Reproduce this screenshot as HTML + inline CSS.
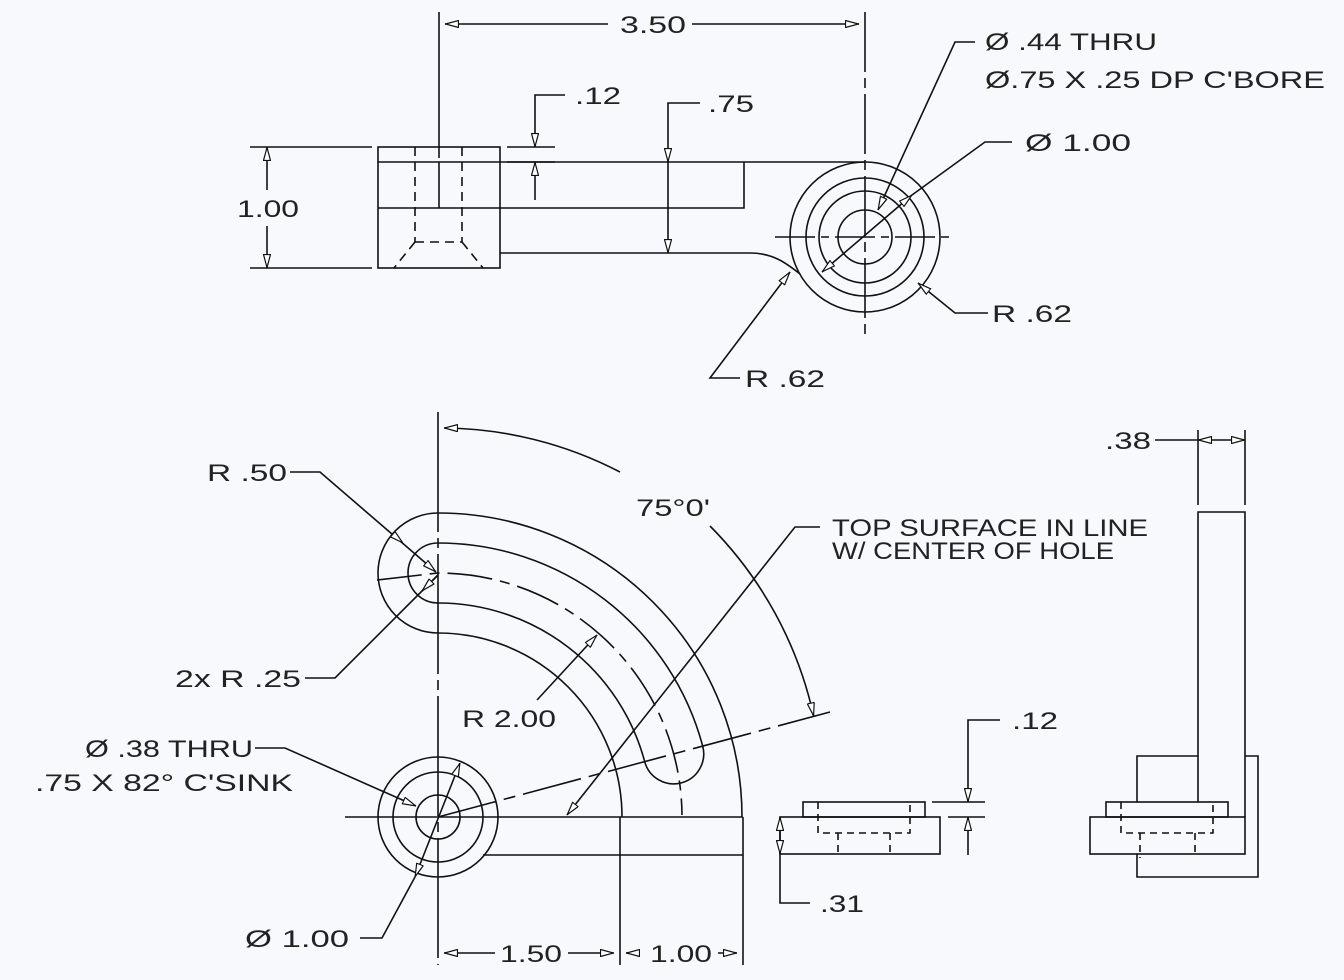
<!DOCTYPE html>
<html><head><meta charset="utf-8"><style>
html,body{margin:0;padding:0;background:#f8f9fc;}
svg{display:block}
text{font-family:"Liberation Sans",sans-serif;font-size:24px;fill:#222;}
</style></head><body>
<svg width="1344" height="980" viewBox="0 0 1344 980" xmlns="http://www.w3.org/2000/svg">
<defs>
<marker id="a" viewBox="0 0 14 8" refX="14" refY="4" markerWidth="14" markerHeight="8" markerUnits="userSpaceOnUse" orient="auto-start-reverse">
<path d="M0.5,0.5 L13.5,4 L0.5,7.5 z" fill="#fff" stroke="#111" stroke-width="1.2"/>
</marker>
</defs>
<rect width="1344" height="980" fill="#f8f9fc"/>
<g stroke="#111" stroke-width="1.6" fill="none">
<!-- TOP VIEW -->
<rect x="378" y="147" width="122" height="121"/>
<line x1="378" y1="162" x2="865" y2="162"/>
<polyline points="378,208 744,208 744,162"/>
<line x1="439" y1="162" x2="439" y2="208"/>
<g stroke-dasharray="9,6">
<line x1="415" y1="147" x2="415" y2="242"/>
<line x1="462" y1="147" x2="462" y2="242"/>
<line x1="415" y1="242" x2="462" y2="242"/>
<line x1="415" y1="242" x2="394" y2="268"/>
<line x1="462" y1="242" x2="483" y2="268"/>
</g>
<path d="M500 253 L750 253 C772 253 785 262 800 274"/>
<circle cx="865" cy="237" r="75"/>
<circle cx="865" cy="237" r="59"/>
<circle cx="865" cy="237" r="46"/>
<circle cx="865" cy="237" r="27"/>
<path d="M775 237 H955" stroke-dasharray="40,6,8,6"/>
<path d="M865 12 V335" stroke-dasharray="60,6,10,6"/>
<!-- dims top -->
<line x1="439" y1="12" x2="439" y2="158"/>
<line x1="445" y1="24" x2="608" y2="24" marker-start="url(#a)"/>
<line x1="692" y1="24" x2="859" y2="24" marker-end="url(#a)"/>
<line x1="507" y1="147" x2="555" y2="147"/>
<line x1="507" y1="162" x2="555" y2="162"/>
<polyline points="565,95 535,95 535,147" marker-end="url(#a)"/>
<line x1="535" y1="200" x2="535" y2="162" marker-end="url(#a)"/>
<polyline points="700,103 668,103 668,162" marker-end="url(#a)"/>
<line x1="668" y1="162" x2="668" y2="253" marker-end="url(#a)"/>
<line x1="250" y1="147" x2="372" y2="147"/>
<line x1="250" y1="268" x2="372" y2="268"/>
<line x1="267" y1="147" x2="267" y2="190" marker-start="url(#a)"/>
<line x1="267" y1="226" x2="267" y2="268" marker-end="url(#a)"/>
<polyline points="975,42 955,42 878,210" marker-end="url(#a)"/>
<polyline points="1012,142 985,142 912,195"/>
<line x1="912" y1="195" x2="822" y2="272" marker-start="url(#a)" marker-end="url(#a)"/>
<polyline points="988,313 955,313 918,283" marker-end="url(#a)"/>
<polyline points="740,378 710,378 790,272" marker-end="url(#a)"/>

<!-- BOTTOM VIEW -->
<path d="M438 513 A304 304 0 0 1 742 817"/>
<path d="M438 513 A60 60 0 0 0 438 633 A184 184 0 0 1 622 817"/>
<path d="M438 543 A274 274 0 0 1 702.7 746.1 A30 30 0 0 1 644.7 761.6 A214 214 0 0 0 438 603 A30 30 0 0 1 438 543"/>
<path d="M377 580 L438 573 A244 244 0 0 1 682 815" stroke-dasharray="45,8,10,8"/>
<path d="M438 817 L830 712" stroke-dasharray="60,8,12,8"/>
<line x1="438" y1="412" x2="438" y2="965" stroke-dasharray="120,6,10,6"/>
<line x1="345" y1="817" x2="743" y2="817"/>
<line x1="483" y1="855" x2="743" y2="855"/>
<line x1="620" y1="817" x2="620" y2="965"/>
<line x1="743" y1="817" x2="743" y2="965"/>
<circle cx="438" cy="817" r="60"/>
<circle cx="438" cy="817" r="45"/>
<circle cx="438" cy="817" r="22"/>
<path d="M444 428 A389 389 0 0 1 620 472" marker-start="url(#a)"/>
<path d="M710 526 A389 389 0 0 1 813.7 716.3" marker-end="url(#a)"/>
<!-- leaders bottom -->
<polyline points="820,527 795,527 567,815" marker-end="url(#a)"/>
<line x1="537" y1="700" x2="597" y2="635" marker-end="url(#a)"/>
<polyline points="290,472 320,472 436,572" marker-end="url(#a)"/>
<line x1="320" y1="472" x2="403" y2="543" marker-end="url(#a)" stroke="none"/>
<polyline points="305,678 335,678 438,575"/>
<line x1="438" y1="575" x2="422" y2="591" marker-end="url(#a)"/>
<polyline points="255,748 285,748 416,806" marker-end="url(#a)"/>
<polyline points="360,938 382,938 415,877"/>
<line x1="415" y1="877" x2="460" y2="763" marker-start="url(#a)" marker-end="url(#a)"/>
<line x1="444" y1="953" x2="495" y2="953" marker-start="url(#a)"/>
<line x1="568" y1="953" x2="614" y2="953" marker-end="url(#a)"/>
<line x1="626" y1="953" x2="640" y2="953" marker-start="url(#a)"/>
<line x1="718" y1="953" x2="737" y2="953" marker-end="url(#a)"/>

<!-- SIDE VIEW -->
<rect x="780" y="817" width="160" height="37"/>
<rect x="803" y="802" width="122" height="15"/>
<g stroke-dasharray="7,5">
<polyline points="818,802 818,833 910,833 910,802"/>
<line x1="838" y1="833" x2="838" y2="854"/>
<line x1="890" y1="833" x2="890" y2="854"/>
</g>
<line x1="932" y1="802" x2="985" y2="802"/>
<line x1="948" y1="817" x2="985" y2="817"/>
<polyline points="1000,720 968,720 968,802" marker-end="url(#a)"/>
<line x1="968" y1="855" x2="968" y2="817" marker-end="url(#a)"/>
<line x1="780" y1="835" x2="780" y2="817" marker-end="url(#a)"/>
<line x1="780" y1="835" x2="780" y2="854" marker-end="url(#a)"/>
<polyline points="780,854 780,903 810,903"/>

<!-- RIGHT VIEW -->
<rect x="1090" y="817" width="155" height="37"/>
<rect x="1106" y="802" width="122" height="15"/>
<polyline points="1198,802 1198,512 1245,512 1245,817"/>
<polyline points="1137,802 1137,756 1198,756"/>
<polyline points="1137,854 1137,877 1258,877 1258,756 1245,756"/>
<g stroke-dasharray="7,5">
<polyline points="1121,802 1121,833 1213,833 1213,802"/>
<line x1="1140" y1="833" x2="1140" y2="858"/>
<line x1="1195" y1="833" x2="1195" y2="854"/>
</g>
<line x1="1198" y1="430" x2="1198" y2="505"/>
<line x1="1245" y1="430" x2="1245" y2="505"/>
<line x1="1155" y1="440" x2="1198" y2="440"/>
<line x1="1221" y1="440" x2="1198" y2="440" marker-end="url(#a)"/>
<line x1="1221" y1="440" x2="1245" y2="440" marker-end="url(#a)"/>
</g>

<!-- TEXT -->
<g>
<text x="620" y="33" textLength="66" lengthAdjust="spacingAndGlyphs">3.50</text>
<text x="575" y="104" textLength="46" lengthAdjust="spacingAndGlyphs">.12</text>
<text x="708" y="112" textLength="46" lengthAdjust="spacingAndGlyphs">.75</text>
<text x="237" y="217" textLength="62" lengthAdjust="spacingAndGlyphs">1.00</text>
<text x="985" y="50" textLength="172" lengthAdjust="spacingAndGlyphs">Ø .44 THRU</text>
<text x="985" y="88" textLength="340" lengthAdjust="spacingAndGlyphs">Ø.75 X .25 DP C'BORE</text>
<text x="1025" y="151" textLength="106" lengthAdjust="spacingAndGlyphs">Ø 1.00</text>
<text x="992" y="322" textLength="80" lengthAdjust="spacingAndGlyphs">R .62</text>
<text x="745" y="387" textLength="80" lengthAdjust="spacingAndGlyphs">R .62</text>
<text x="636" y="516" textLength="74" lengthAdjust="spacingAndGlyphs">75°0'</text>
<text x="832" y="536" textLength="316" lengthAdjust="spacingAndGlyphs">TOP SURFACE IN LINE</text>
<text x="832" y="559" textLength="282" lengthAdjust="spacingAndGlyphs">W/ CENTER OF HOLE</text>
<text x="207" y="481" textLength="80" lengthAdjust="spacingAndGlyphs">R .50</text>
<text x="175" y="687" textLength="126" lengthAdjust="spacingAndGlyphs">2x R .25</text>
<text x="462" y="727" textLength="94" lengthAdjust="spacingAndGlyphs">R 2.00</text>
<text x="85" y="757" textLength="168" lengthAdjust="spacingAndGlyphs">Ø .38 THRU</text>
<text x="35" y="791" textLength="258" lengthAdjust="spacingAndGlyphs">.75 X 82° C'SINK</text>
<text x="245" y="947" textLength="104" lengthAdjust="spacingAndGlyphs">Ø 1.00</text>
<text x="500" y="962" textLength="62" lengthAdjust="spacingAndGlyphs">1.50</text>
<text x="650" y="962" textLength="62" lengthAdjust="spacingAndGlyphs">1.00</text>
<text x="1012" y="729" textLength="46" lengthAdjust="spacingAndGlyphs">.12</text>
<text x="820" y="912" textLength="44" lengthAdjust="spacingAndGlyphs">.31</text>
<text x="1105" y="449" textLength="46" lengthAdjust="spacingAndGlyphs">.38</text>
</g>
</svg>
</body></html>
